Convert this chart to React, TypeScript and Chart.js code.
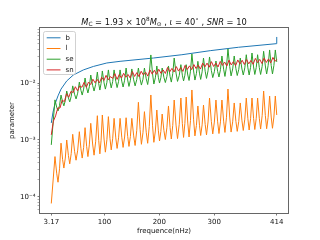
import React, { useEffect, useRef } from "react";
import { Chart, registerables } from "chart.js";

Chart.register(...registerables);

const FONT = "'DejaVu Sans', sans-serif";

// axis ranges & ticks
const X_MIN = -17.4;
const X_MAX = 434.5;
const Y_MIN = 5.16e-5;
const Y_MAX = 0.0944;
const xTicks = [3.17, 100, 200, 300, 414];
const xTickLabels = ["3.17", "100", "200", "300", "414"];
const yMajor = [1e-4, 1e-3, 1e-2];
const yMajorLabels = ["10⁻⁴", "10⁻³", "10⁻²"];

const seriesNames = ["b", "l", "se", "sn"];
const seriesColors = ["#1f77b4", "#ff7f0e", "#2ca02c", "#d62728"];

// b
const bFreq = [3.17, 6.3, 9.9, 15.4, 20.9, 31.3, 43.3, 61.6, 79.8, 104.3, 128.5, 189.3, 241.1, 292.8, 344.4, 413, 414];
const bVals = [0.002, 0.0031, 0.0043, 0.006, 0.0079, 0.011, 0.014, 0.0172, 0.0198, 0.0228, 0.0244, 0.0279, 0.0319, 0.0376, 0.0432, 0.0499, 0.0656];

// l
const lFreq = [3.17, 9.9,
  13.0, 15.4, 18.2, 20.9,
  23.8, 26.1, 28.7, 31.3,
  34.4, 36.8, 39.5, 42.2,
  45.6, 48.3, 51.3, 54.3,
  57.2, 59.5, 62.1, 64.7,
  67.6, 69.9, 72.5, 75.1,
  78.5, 81.1, 84.1, 87.1,
  89.6, 91.7, 93.9, 96.2,
  99.3, 101.7, 104.5, 107.2,
  110.1, 112.4, 115.0, 117.6,
  120.7, 123.1, 125.8, 128.5,
  131.6, 134.0, 136.8, 139.5,
  142.4, 144.7, 147.3, 149.9,
  153.3, 155.9, 158.9, 161.9,
  165.0, 167.4, 170.2, 172.9,
  176.2, 178.8, 181.7, 184.6,
  187.7, 190.1, 192.8, 195.5,
  198.2, 200.4, 202.8, 205.2,
  208.4, 211.0, 213.8, 216.7,
  219.6, 221.9, 224.5, 227.1,
  230.5, 233.2, 236.3, 239.3,
  242.0, 244.2, 246.6, 249.0,
  251.9, 254.2, 256.8, 259.4,
  262.5, 264.9, 267.6, 270.3,
  273.2, 275.4, 278.0, 280.5,
  283.6, 286.0, 288.8, 291.5,
  294.8, 297.4, 300.3, 303.2,
  306.3, 308.7, 311.4, 314.1,
  317.2, 319.6, 322.4, 325.1,
  328.3, 330.8, 333.7, 336.5,
  339.6, 342.0, 344.8, 347.5,
  350.6, 353.0, 355.8, 358.5,
  361.4, 363.7, 366.3, 368.9,
  371.8, 374.0, 376.6, 379.1,
  382.2, 384.6, 387.4, 390.1,
  393.2, 395.6, 398.3, 401.0,
  403.9, 406.2, 408.8, 411.4,
  414];
const lVals = [7.6e-5, 5.1e-4,
  2.6e-4, 1.8e-4, 3.1e-4, 8.8e-4,
  4.5e-4, 3.2e-4, 4.8e-4, 1.0e-3,
  5.3e-4, 3.8e-4, 5.8e-4, 1.26e-3,
  6.3e-4, 4.4e-4, 6.6e-4, 1.40e-3,
  7.0e-4, 4.8e-4, 7.4e-4, 1.65e-3,
  7.7e-4, 5.1e-4, 8.2e-4, 1.97e-3,
  8.5e-4, 5.4e-4, 9.5e-4, 2.68e-3,
  9.8e-4, 5.7e-4, 9.9e-4, 2.76e-3,
  1.04e-3, 6.1e-4, 1.01e-3, 2.58e-3,
  1.07e-3, 6.7e-4, 1.05e-3, 2.41e-3,
  1.09e-3, 7.1e-4, 1.09e-3, 2.41e-3,
  1.12e-3, 7.4e-4, 1.13e-3, 2.47e-3,
  1.16e-3, 7.7e-4, 1.15e-3, 2.41e-3,
  1.18e-3, 8.0e-4, 1.48e-3, 4.62e-3,
  1.53e-3, 8.4e-4, 1.34e-3, 3.16e-3,
  1.37e-3, 8.75e-4, 1.74e-3, 6.22e-3,
  1.78e-3, 9.1e-4, 1.44e-3, 3.38e-3,
  1.49e-3, 9.6e-4, 1.41e-3, 2.87e-3,
  1.47e-3, 1.02e-3, 1.64e-3, 3.98e-3,
  1.66e-3, 1.04e-3, 1.81e-3, 5.07e-3,
  1.83e-3, 1.06e-3, 1.89e-3, 5.5e-3,
  1.94e-3, 1.11e-3, 1.97e-3, 5.73e-3,
  1.99e-3, 1.13e-3, 2.20e-3, 7.62e-3,
  2.27e-3, 1.18e-3, 1.81e-3, 3.98e-3,
  1.82e-3, 1.20e-3, 1.85e-3, 4.14e-3,
  1.88e-3, 1.23e-3, 2.08e-3, 5.5e-3,
  2.13e-3, 1.28e-3, 2.07e-3, 5.07e-3,
  2.09e-3, 1.30e-3, 2.09e-3, 5.07e-3,
  2.15e-3, 1.36e-3, 2.52e-3, 7.93e-3,
  2.54e-3, 1.38e-3, 2.09e-3, 4.5e-3,
  2.13e-3, 1.42e-3, 2.13e-3, 4.5e-3,
  2.18e-3, 1.47e-3, 2.33e-3, 5.5e-3,
  2.37e-3, 1.50e-3, 2.37e-3, 5.5e-3,
  2.40e-3, 1.53e-3, 2.40e-3, 5.5e-3,
  2.42e-3, 1.56e-3, 2.68e-3, 7.31e-3,
  2.70e-3, 1.58e-3, 2.51e-3, 5.97e-3,
  2.54e-3, 1.61e-3, 2.54e-3, 5.97e-3,
  2.76e-3];

// se
const seFreq = [3.17, 9.9,
  13.0, 15.4, 18.2, 20.9,
  23.8, 26.1, 28.7, 31.3,
  34.4, 36.8, 39.5, 42.2,
  45.6, 48.3, 51.3, 54.3,
  57.2, 59.5, 62.1, 64.7,
  67.6, 69.9, 72.5, 75.1,
  78.5, 81.1, 84.1, 87.1,
  89.6, 91.7, 93.9, 96.2,
  99.3, 101.7, 104.5, 107.2,
  110.1, 112.4, 115.0, 117.6,
  120.7, 123.1, 125.8, 128.5,
  131.6, 134.0, 136.8, 139.5,
  142.4, 144.7, 147.3, 149.9,
  153.3, 155.9, 158.9, 161.9,
  165.0, 167.4, 170.2, 172.9,
  176.2, 178.8, 181.7, 184.6,
  187.7, 190.1, 192.8, 195.5,
  198.2, 200.4, 202.8, 205.2,
  208.4, 211.0, 213.8, 216.7,
  219.6, 221.9, 224.5, 227.1,
  230.5, 233.2, 236.3, 239.3,
  242.0, 244.2, 246.6, 249.0,
  251.9, 254.2, 256.8, 259.4,
  262.5, 264.9, 267.6, 270.3,
  273.2, 275.4, 278.0, 280.5,
  283.6, 286.0, 288.8, 291.5,
  294.8, 297.4, 300.3, 303.2,
  306.3, 308.7, 311.4, 314.1,
  317.2, 319.6, 322.4, 325.1,
  328.3, 330.8, 333.7, 336.5,
  339.6, 342.0, 344.8, 347.5,
  350.6, 353.0, 355.8, 358.5,
  361.4, 363.7, 366.3, 368.9,
  371.8, 374.0, 376.6, 379.1,
  382.2, 384.6, 387.4, 390.1,
  393.2, 395.6, 398.3, 401.0,
  403.9, 406.2, 408.8, 411.4,
  414];
const seVals = [8.2e-4, 5.1e-3,
  3.8e-3, 3.25e-3, 4.07e-3, 6.2e-3,
  4.66e-3, 4.0e-3, 4.94e-3, 7.3e-3,
  5.5e-3, 4.7e-3, 5.9e-3, 9.0e-3,
  6.4e-3, 5.3e-3, 6.7e-3, 1.05e-2,
  7.5e-3, 6.2e-3, 7.9e-3, 1.24e-2,
  8.3e-3, 6.75e-3, 8.7e-3, 1.40e-2,
  9.2e-3, 7.3e-3, 9.6e-3, 1.58e-2,
  9.8e-3, 7.6e-3, 9.96e-3, 1.65e-2,
  1.02e-2, 7.9e-3, 1.04e-2, 1.72e-2,
  1.07e-2, 8.3e-3, 1.07e-2, 1.72e-2,
  1.08e-2, 8.4e-3, 1.08e-2, 1.72e-2,
  1.09e-2, 8.6e-3, 1.13e-2, 1.86e-2,
  1.14e-2, 8.8e-3, 1.13e-2, 1.79e-2,
  1.15e-2, 9.0e-3, 1.16e-2, 1.86e-2,
  1.18e-2, 9.3e-3, 1.18e-2, 1.86e-2,
  1.20e-2, 9.5e-3, 1.45e-2, 3.16e-2,
  1.47e-2, 9.7e-3, 1.25e-2, 2.02e-2,
  1.28e-2, 1.01e-2, 1.25e-2, 1.86e-2,
  1.27e-2, 1.03e-2, 1.31e-2, 2.02e-2,
  1.32e-2, 1.05e-2, 1.48e-2, 2.79e-2,
  1.51e-2, 1.08e-2, 1.37e-2, 2.13e-2,
  1.39e-2, 1.10e-2, 1.39e-2, 2.13e-2,
  1.40e-2, 1.12e-2, 1.63e-2, 3.29e-2,
  1.65e-2, 1.14e-2, 1.49e-2, 2.44e-2,
  1.51e-2, 1.17e-2, 1.59e-2, 2.79e-2,
  1.63e-2, 1.22e-2, 1.66e-2, 2.91e-2,
  1.69e-2, 1.26e-2, 1.60e-2, 2.47e-2,
  1.62e-2, 1.29e-2, 1.74e-2, 3.03e-2,
  1.77e-2, 1.32e-2, 1.95e-2, 4.03e-2,
  1.98e-2, 1.35e-2, 1.79e-2, 3.03e-2,
  1.81e-2, 1.37e-2, 1.76e-2, 2.79e-2,
  1.78e-2, 1.40e-2, 1.87e-2, 3.19e-2,
  1.87e-2, 1.40e-2, 1.91e-2, 3.42e-2,
  1.94e-2, 1.43e-2, 1.89e-2, 3.19e-2,
  1.89e-2, 1.43e-2, 1.99e-2, 3.67e-2,
  2.02e-2, 1.46e-2, 2.06e-2, 3.87e-2,
  2.06e-2, 1.46e-2, 2.06e-2, 3.87e-2,
  2.38e-2];

// sn
const snFreq = [3.17, 7, 11, 15, 19, 23, 27, 31, 35, 39, 43, 47, 51, 55, 59, 63, 67, 71, 75, 79, 83, 87, 91, 95, 99, 103, 107, 111, 115, 119, 123, 127, 131, 135, 139, 143, 147, 151, 155, 159, 163, 167, 171, 175, 179, 183, 187, 191, 195, 199, 203, 207, 211, 215, 219, 223, 227, 231, 235, 239, 243, 247, 251, 255, 259, 263, 267, 271, 275, 279, 283, 287, 291, 295, 299, 303, 307, 311, 315, 319, 323, 327, 331, 335, 339, 343, 347, 351, 355, 359, 363, 367, 371, 375, 379, 383, 387, 391, 395, 399, 403, 407, 411, 414];
const snVals = [1.23e-3, 2.15e-3, 2.66e-3, 3.67e-3, 3.66e-3, 5.06e-3, 4.74e-3, 6.55e-3, 5.67e-3, 7.21e-3,
  6.86e-3, 8.70e-3, 7.37e-3, 8.98e-3, 8.50e-3, 1.04e-2, 8.5e-3, 1.05e-2, 9.5e-3, 1.18e-2,
  1.02e-2, 1.17e-2, 1.02e-2, 1.28e-2, 1.12e-2, 1.38e-2, 1.15e-2, 1.31e-2, 1.22e-2, 1.48e-2,
  1.17e-2, 1.42e-2, 1.24e-2, 1.50e-2, 1.28e-2, 1.43e-2, 1.24e-2, 1.61e-2, 1.32e-2, 1.54e-2,
  1.31e-2, 1.63e-2, 1.40e-2, 1.57e-2, 1.34e-2, 1.72e-2, 1.45e-2, 1.70e-2, 1.44e-2, 1.77e-2,
  1.50e-2, 1.72e-2, 1.49e-2, 1.90e-2, 1.59e-2, 1.83e-2, 1.58e-2, 1.97e-2, 1.64e-2, 1.89e-2,
  1.62e-2, 2.07e-2, 1.75e-2, 2.03e-2, 1.74e-2, 2.14e-2, 1.82e-2, 2.10e-2, 1.78e-2, 2.27e-2,
  1.94e-2, 2.27e-2, 1.92e-2, 2.41e-2, 1.98e-2, 2.27e-2, 1.94e-2, 2.43e-2, 2.07e-2, 2.37e-2,
  2.01e-2, 2.56e-2, 2.11e-2, 2.41e-2, 2.04e-2, 2.58e-2, 2.19e-2, 2.55e-2, 2.14e-2, 2.63e-2,
  2.20e-2, 2.53e-2, 2.16e-2, 2.75e-2, 2.31e-2, 2.64e-2, 2.23e-2, 2.79e-2, 2.33e-2, 2.69e-2,
  2.28e-2, 2.86e-2, 2.44e-2, 2.63e-2];

// title pieces (mathtext-like)
const titleParts: { t: string; k: string }[] = [
  { t: "M", k: "i" },
  { t: "C", k: "sub" },
  { t: " = 1.93 × 10", k: "n" },
  { t: "8", k: "sup" },
  { t: "M", k: "i" },
  { t: "⊙", k: "sub" },
  { t: " , ", k: "n" },
  { t: "ι", k: "i" },
  { t: " = 40", k: "n" },
  { t: "∘", k: "sup" },
  { t: " , ", k: "n" },
  { t: "SNR", k: "i" },
  { t: " = 10", k: "n" },
];

function partFont(k: string) {
  if (k === "i") return `italic 8.3px ${FONT}`;
  if (k === "sub" || k === "sup") return `5.8px ${FONT}`;
  return `8.3px ${FONT}`;
}

const decorPlugin = {
  id: "decor",
  afterDraw(chart: any) {
    const { ctx, chartArea: a } = chart;
    ctx.save();
    // frame
    ctx.strokeStyle = "#666";
    ctx.lineWidth = 1;
    ctx.strokeRect(a.left - 0.5, a.top - 0.5, a.right - a.left + 1, a.bottom - a.top + 1);

    // legend
    const lx = 43.5, ly = 31.5, lw = 32, lh = 43;
    ctx.beginPath();
    ctx.roundRect(lx, ly, lw, lh, 2);
    ctx.fillStyle = "rgba(255,255,255,0.8)";
    ctx.fill();
    ctx.strokeStyle = "rgba(204,204,204,0.9)";
    ctx.lineWidth = 1;
    ctx.stroke();
    ctx.font = `7px ${FONT}`;
    ctx.textBaseline = "middle";
    ctx.textAlign = "left";
    seriesNames.forEach((name, i) => {
      const y = 37.8 + i * 10.7;
      ctx.strokeStyle = seriesColors[i];
      ctx.lineWidth = 1;
      ctx.beginPath();
      ctx.moveTo(46.7, y);
      ctx.lineTo(60.5, y);
      ctx.stroke();
      ctx.fillStyle = "#111";
      ctx.fillText(name, 65.5, y);
    });

    // title
    let total = 0;
    titleParts.forEach((p) => {
      ctx.font = partFont(p.k);
      total += ctx.measureText(p.t).width;
    });
    let x = (a.left + a.right) / 2 - total / 2;
    const base = 24.5;
    ctx.textBaseline = "alphabetic";
    ctx.fillStyle = "#111";
    titleParts.forEach((p) => {
      ctx.font = partFont(p.k);
      const dy = p.k === "sub" ? 1.8 : p.k === "sup" ? -3.6 : 0;
      ctx.fillText(p.t, x, base + dy);
      x += ctx.measureText(p.t).width;
    });
    ctx.restore();
  },
};

function yTickLabel(v: number) {
  for (let i = 0; i < yMajor.length; i++) {
    if (Math.abs(v / yMajor[i] - 1) < 1e-6) return yMajorLabels[i];
  }
  return "";
}

export default function App() {
  const ref = useRef<HTMLCanvasElement>(null);
  useEffect(() => {
    Chart.defaults.font.family = FONT;
    const mk = (f: number[], v: number[]) => f.map((x, i) => ({ x, y: v[i] }));
    const all = [mk(bFreq, bVals), mk(lFreq, lVals), mk(seFreq, seVals), mk(snFreq, snVals)];
    const chart = new Chart(ref.current!, {
      type: "line",
      data: {
        datasets: all.map((d, i) => ({
          label: seriesNames[i],
          data: d,
          borderColor: seriesColors[i],
          backgroundColor: seriesColors[i],
          borderWidth: 1,
          pointRadius: 0,
          tension: 0,
          fill: false,
          order: 4 - i,
        })),
      },
      options: {
        responsive: false,
        animation: false,
        events: [],
        devicePixelRatio: 1,
        layout: { padding: { top: 28, right: 32, left: 0, bottom: 0 } },
        plugins: { legend: { display: false }, tooltip: { enabled: false }, title: { display: false } },
        scales: {
          x: {
            type: "linear",
            min: X_MIN,
            max: X_MAX,
            afterBuildTicks: (s: any) => {
              s.ticks = xTicks.map((v) => ({ value: v }));
            },
            afterFit: (s: any) => {
              s.height = 27;
            },
            ticks: {
              autoSkip: false,
              maxRotation: 0,
              padding: 2,
              color: "#111",
              font: { size: 7, family: FONT },
              callback: (_v: any, i: number) => xTickLabels[i],
            },
            grid: { display: true, drawOnChartArea: false, tickLength: 2.5, tickColor: "#555", tickWidth: 0.8 },
            border: { display: false },
            title: {
              display: true,
              text: "frequence(nHz)",
              color: "#111",
              font: { size: 7, family: FONT },
              padding: { top: 0, bottom: 5 },
            },
          },
          y: {
            type: "logarithmic",
            min: Y_MIN,
            max: Y_MAX,
            afterBuildTicks: (s: any) => {
              const t: any[] = [];
              for (let e = -5; e <= -2; e++) {
                for (let m = 1; m <= 9; m++) {
                  const v = m * Math.pow(10, e);
                  if (v >= Y_MIN && v <= Y_MAX) t.push({ value: v, major: m === 1 });
                }
              }
              s.ticks = t;
            },
            afterFit: (s: any) => {
              s.width = 40;
            },
            ticks: {
              autoSkip: false,
              padding: 2,
              color: "#111",
              font: { size: 7, family: FONT },
              callback: (v: any) => yTickLabel(Number(v)),
            },
            grid: {
              display: true,
              drawOnChartArea: false,
              tickLength: 2.5,
              tickColor: (c: any) => (c.tick && c.tick.major ? "#555" : "#999"),
              tickWidth: 0.8,
            },
            border: { display: false },
            title: {
              display: true,
              text: "parameter",
              color: "#111",
              font: { size: 7, family: FONT },
              padding: { top: 8, bottom: 0 },
            },
          },
        },
      },
      plugins: [decorPlugin],
    } as any);
    return () => chart.destroy();
  }, []);
  return (
    <div style={{ position: "fixed", left: 0, top: 0, width: 320, height: 240, background: "#fff" }}>
      <canvas ref={ref} width={320} height={240} style={{ display: "block", width: 320, height: 240 }} />
    </div>
  );
}
